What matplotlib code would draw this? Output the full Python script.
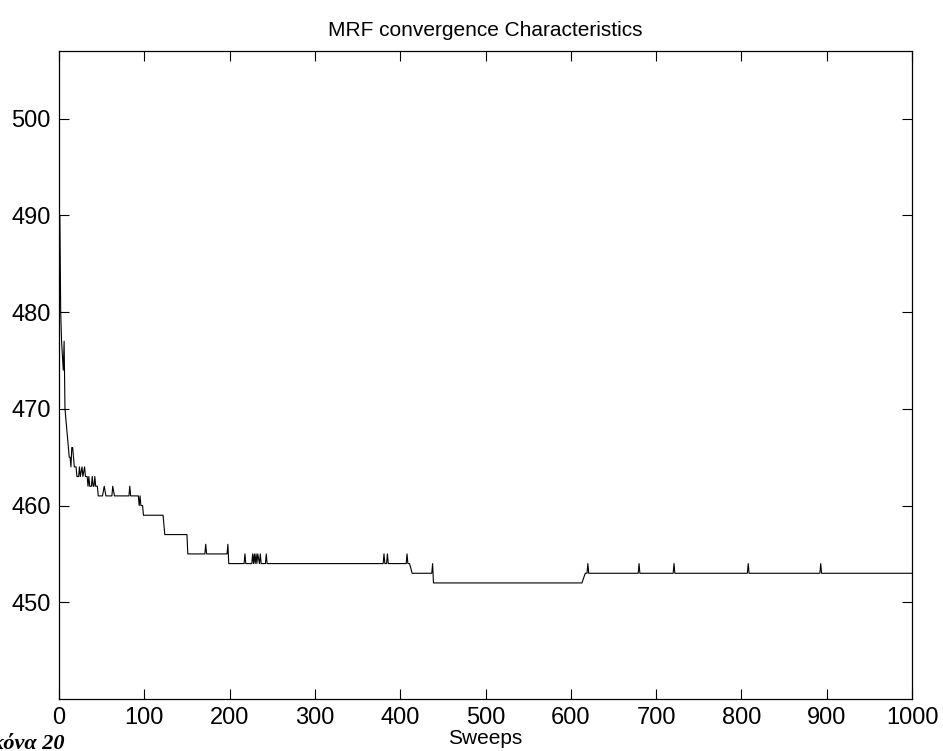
import numpy as np
import matplotlib
matplotlib.use('Agg')
import matplotlib.pyplot as plt

# MRF energy vs sweep (vertices of the trace)
sweeps = [1, 2, 3, 4, 5, 6, 7, 8, 10, 12, 13, 14, 15, 16, 17, 18, 20, 21, 23, 24,
          25, 27, 28, 30, 31, 33, 34, 35, 36, 38, 39, 40, 41, 42, 43, 45, 46, 51,
          53, 55, 62, 63, 65, 82, 83, 84, 93, 94, 95, 96, 98, 99, 122, 123, 124,
          150, 151, 171, 172, 173, 197, 198, 199, 217, 218, 219, 226, 227, 228,
          229, 230, 231, 232, 233, 235, 236, 237, 242, 243, 244, 380, 381, 382,
          384, 385, 386, 407, 408, 409, 411, 414, 437, 438, 439, 613, 617, 619,
          620, 621, 679, 680, 681, 720, 721, 722, 807, 808, 809, 892, 893, 894, 1000]
energy = [490, 480, 477, 475.5, 474, 477, 470, 469, 467, 465, 465, 464, 466, 466,
          465, 464, 464, 463, 463, 464, 463, 464, 463, 464, 463, 463, 462, 463,
          462, 462, 463, 462, 462, 463, 462, 462, 461, 461, 462, 461, 461, 462,
          461, 461, 462, 461, 461, 460, 461, 460, 460, 459, 459, 458, 457, 457,
          455, 455, 456, 455, 455, 456, 454, 454, 455, 454, 454, 455, 454, 455,
          454, 455, 454, 455, 454, 455, 454, 454, 455, 454, 454, 455, 454, 454,
          455, 454, 454, 455, 454, 454, 453, 453, 454, 452, 452, 453, 453, 454,
          453, 453, 454, 453, 453, 454, 453, 453, 454, 453, 453, 454, 453, 453]

xticks = np.arange(0, 1001, 100)
yticks = np.arange(450, 501, 10)

plt.rcParams['font.family'] = 'Liberation Sans'

fig = plt.figure(figsize=(9.43, 7.51), dpi=100)
ax = fig.add_axes([59/943, 1 - 699/751, (912 - 59)/943, (699 - 51)/751])

ax.plot(sweeps, energy, color='k', lw=0.8)

ax.set_xlim(0, 1000)
ax.set_ylim(440, 507)
ax.set_xticks(xticks)
ax.set_yticks(yticks)
ax.tick_params(direction='in', length=7, width=0.8, top=True, right=True,
               labelsize=17, pad=6)
for s in ax.spines.values():
    s.set_linewidth(0.9)

ax.set_title('MRF convergence Characteristics', fontsize=15, pad=11)
ax.set_xlabel('Sweeps', fontsize=15, labelpad=0)

# caption, partly cut off at the left edge in the original
fig.text(65/943, 2/751, 'Εικόνα 20', family='Liberation Serif', fontsize=16,
         fontweight='bold', fontstyle='italic', ha='right', va='baseline')

fig.savefig('out.png', dpi=100)
